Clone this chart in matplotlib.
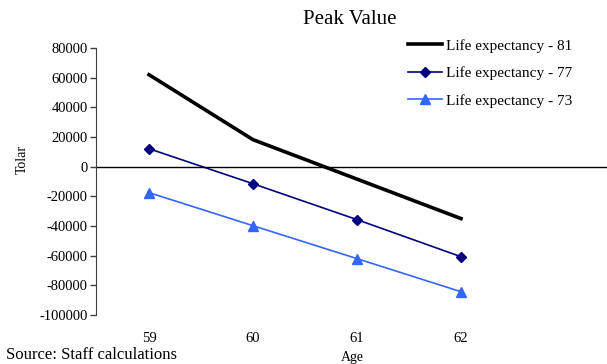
import matplotlib.pyplot as plt

ages = [59, 60, 61, 62]
le_81 = [62000, 18200, -8400, -35000]
le_77 = [12100, -11500, -35700, -60700]
le_73 = [-17500, -39800, -62000, -84300]
yticks = list(range(-100000, 80001, 20000))

plt.rcParams['font.family'] = ['Liberation Serif', 'DejaVu Serif']

fig = plt.figure(figsize=(6.07, 3.64), dpi=100)
ax = fig.add_axes([96 / 607, 1 - 315 / 364, 1 - 96 / 607, (315 - 48) / 364])

ax.plot(ages, le_81, color='black', lw=2.6, label='Life expectancy - 81')
ax.plot(ages, le_77, color='#000080', lw=1.2, marker='D', ms=5,
        label='Life expectancy - 77')
ax.plot(ages, le_73, color='#3366FF', lw=1.2, marker='^', ms=7,
        label='Life expectancy - 73')

ax.axhline(0, color='black', lw=1)

ax.set_xlim(59 - 53 / 104, 59 + (607 - 149) / 104)
ax.set_ylim(-100000, 80000)
ax.set_yticks(yticks)
ax.set_yticklabels([str(v) for v in yticks], fontsize=10.5)
ax.set_xticks(ages)
ax.set_xticklabels([str(a) for a in ages], fontsize=10.5)
ax.tick_params(axis='x', length=0, pad=12)
ax.tick_params(axis='y', length=4, width=1, color='#404040', pad=2)

for s in ['top', 'right', 'bottom']:
    ax.spines[s].set_visible(False)
ax.spines['left'].set_color('#404040')

fig.text(350 / 607, 1 - 19 / 364, 'Peak Value', ha='center', va='center', fontsize=15)
fig.text(22 / 607, 1 - 159 / 364, 'Tolar', ha='center', va='center',
         rotation=90, fontsize=10)
fig.text(352 / 607, 1 - 358 / 364, 'Age', ha='center', va='center', fontsize=10)
fig.text(6 / 607, 1 - 363 / 364, 'Source: Staff calculations', ha='left',
         va='bottom', fontsize=12)

fig.legend(loc='upper left', bbox_to_anchor=(408 / 607, 1 - 39 / 364),
           frameon=False, fontsize=11, handlelength=2.2, handletextpad=0.26,
           labelspacing=0.9, borderaxespad=0, borderpad=0)

fig.savefig('out.png', dpi=100)
